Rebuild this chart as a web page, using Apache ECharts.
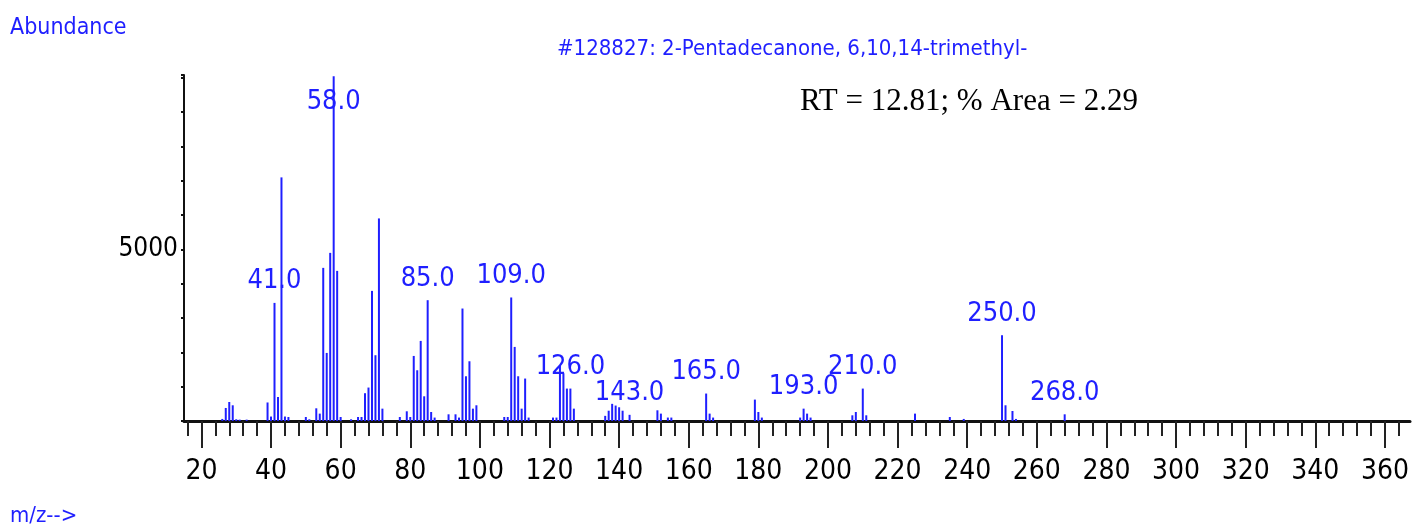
<!DOCTYPE html>
<html>
<head>
<meta charset="utf-8">
<script src="https://cdn.jsdelivr.net/npm/echarts@6/dist/echarts.min.js"></script>
<style>
  html, body { margin: 0; padding: 0; background: #fff; }
  #chart { width: 1419px; height: 531px; }
</style>
</head>
<body>
<div id="chart"></div>
<script>
// m/z values and abundances
const mz = [26, 27, 28, 29, 30, 31, 33, 39, 40, 41, 42, 43, 44, 45, 50, 51, 53, 54, 55, 56,
  57, 58, 59, 60, 63, 65, 66, 67, 68, 69, 70, 71, 72, 77, 79, 80, 81, 82, 83, 84,
  85, 86, 87, 91, 93, 94, 95, 96, 97, 98, 99, 107, 108, 109, 110, 111, 112, 113, 114, 121,
  122, 123, 124, 125, 126, 127, 136, 137, 138, 139, 140, 141, 143, 151, 152, 154, 155, 165, 166, 167,
  179, 180, 181, 192, 193, 194, 195, 207, 208, 210, 211, 225, 235, 239, 250, 251, 253, 254, 268]
const abundance = [60, 380, 554, 458, 50, 40, 40, 540, 130, 3442, 700, 7100, 130, 117, 117, 50, 370, 215, 4463, 1984,
  4900, 10050, 4375, 117, 50, 117, 117, 810, 975, 3792, 1917, 5904, 360, 117, 283, 117, 1896, 1479, 2334, 720,
  3521, 263, 100, 195, 195, 100, 3278, 1304, 1741, 360, 458, 117, 117, 3600, 2159, 1304, 360, 1237, 100, 100,
  100, 1620, 1390, 945, 945, 360, 150, 300, 500, 450, 400, 300, 180, 312, 215, 100, 100, 800, 215, 100,
  624, 263, 100, 100, 360, 215, 100, 166, 263, 945, 166, 215, 117, 60, 2500, 458, 292, 60, 195]
const labeledMz = [41, 58, 85, 109, 126, 143, 165, 193, 210, 250, 268]
const xMajorTicks = [20, 40, 60, 80, 100, 120, 140, 160, 180, 200, 220, 240, 260, 280, 300, 320, 340, 360]
const yLabelValues = [5000]

const blue = '#1f1fff'
const narrow = "'Liberation Sans Narrow', 'DejaVu Sans Condensed', sans-serif"

const xMinorTicks = []
for (let v = 16; v <= 364; v += 4) {
  xMinorTicks.push(v)
}

const seriesData = mz.map((m, i) => {
  const item = { value: [m, abundance[i]] }
  if (labeledMz.indexOf(m) !== -1) {
    item.label = {
      show: true,
      formatter: m.toFixed(1)
    }
    if (m === 58) {
      // no room above the base peak, label sits over the line
      item.label.position = 'insideTop'
      item.label.distance = 12
    }
  }
  return item
})

const chart = echarts.init(document.getElementById('chart'))
chart.setOption({
  animation: false,
  title: [
    {
      text: 'Abundance',
      left: 5,
      top: 12,
      textStyle: { color: blue, fontFamily: narrow, fontSize: 23, fontWeight: 'normal' }
    },
    {
      text: '#128827: 2-Pentadecanone, 6,10,14-trimethyl-',
      left: 552,
      top: 33,
      textStyle: { color: blue, fontFamily: narrow, fontSize: 22, fontWeight: 'normal' }
    },
    {
      text: 'RT = 12.81; % Area = 2.29',
      left: 795,
      top: 81,
      textStyle: { color: '#000', fontFamily: "'Liberation Serif', serif", fontSize: 31, fontWeight: 'normal' }
    },
    {
      text: 'm/z-->',
      left: 5,
      top: 500,
      textStyle: { color: blue, fontFamily: narrow, fontSize: 22, fontWeight: 'normal' }
    }
  ],
  grid: {
    left: 184,
    right: 9,
    top: 75,
    bottom: 110
  },
  xAxis: [
    {
      type: 'value',
      min: 15,
      max: 367.2,
      position: 'bottom',
      axisLine: { show: true, lineStyle: { color: '#111', width: 3 } },
      axisTick: { show: true, customValues: xMinorTicks, length: 15, lineStyle: { color: '#222', width: 2 } },
      axisLabel: { show: false },
      splitLine: { show: false }
    },
    {
      type: 'value',
      min: 15,
      max: 367.2,
      position: 'bottom',
      axisLine: { show: false },
      axisTick: { show: true, customValues: xMajorTicks, length: 27, lineStyle: { color: '#222', width: 2 } },
      axisLabel: {
        show: true,
        customValues: xMajorTicks,
        margin: 37,
        color: '#000',
        fontFamily: narrow,
        fontSize: 28
      },
      splitLine: { show: false }
    }
  ],
  yAxis: {
    type: 'value',
    min: 0,
    max: 10084,
    interval: 1000,
    axisLine: { show: true, lineStyle: { color: '#111', width: 2 } },
    axisTick: { show: true, length: 3, lineStyle: { color: '#111', width: 2 } },
    axisLabel: {
      show: true,
      margin: 6,
      color: '#000',
      fontFamily: narrow,
      fontSize: 26,
      formatter(v) {
        return yLabelValues.indexOf(v) !== -1 ? String(v) : ''
      }
    },
    splitLine: { show: false }
  },
  series: [
    {
      type: 'bar',
      xAxisIndex: 0,
      barWidth: 2,
      itemStyle: { color: blue },
      label: {
        show: false,
        position: 'top',
        distance: 8,
        color: blue,
        fontFamily: narrow,
        fontSize: 27
      },
      data: seriesData
    }
  ]
})
</script>
</body>
</html>
